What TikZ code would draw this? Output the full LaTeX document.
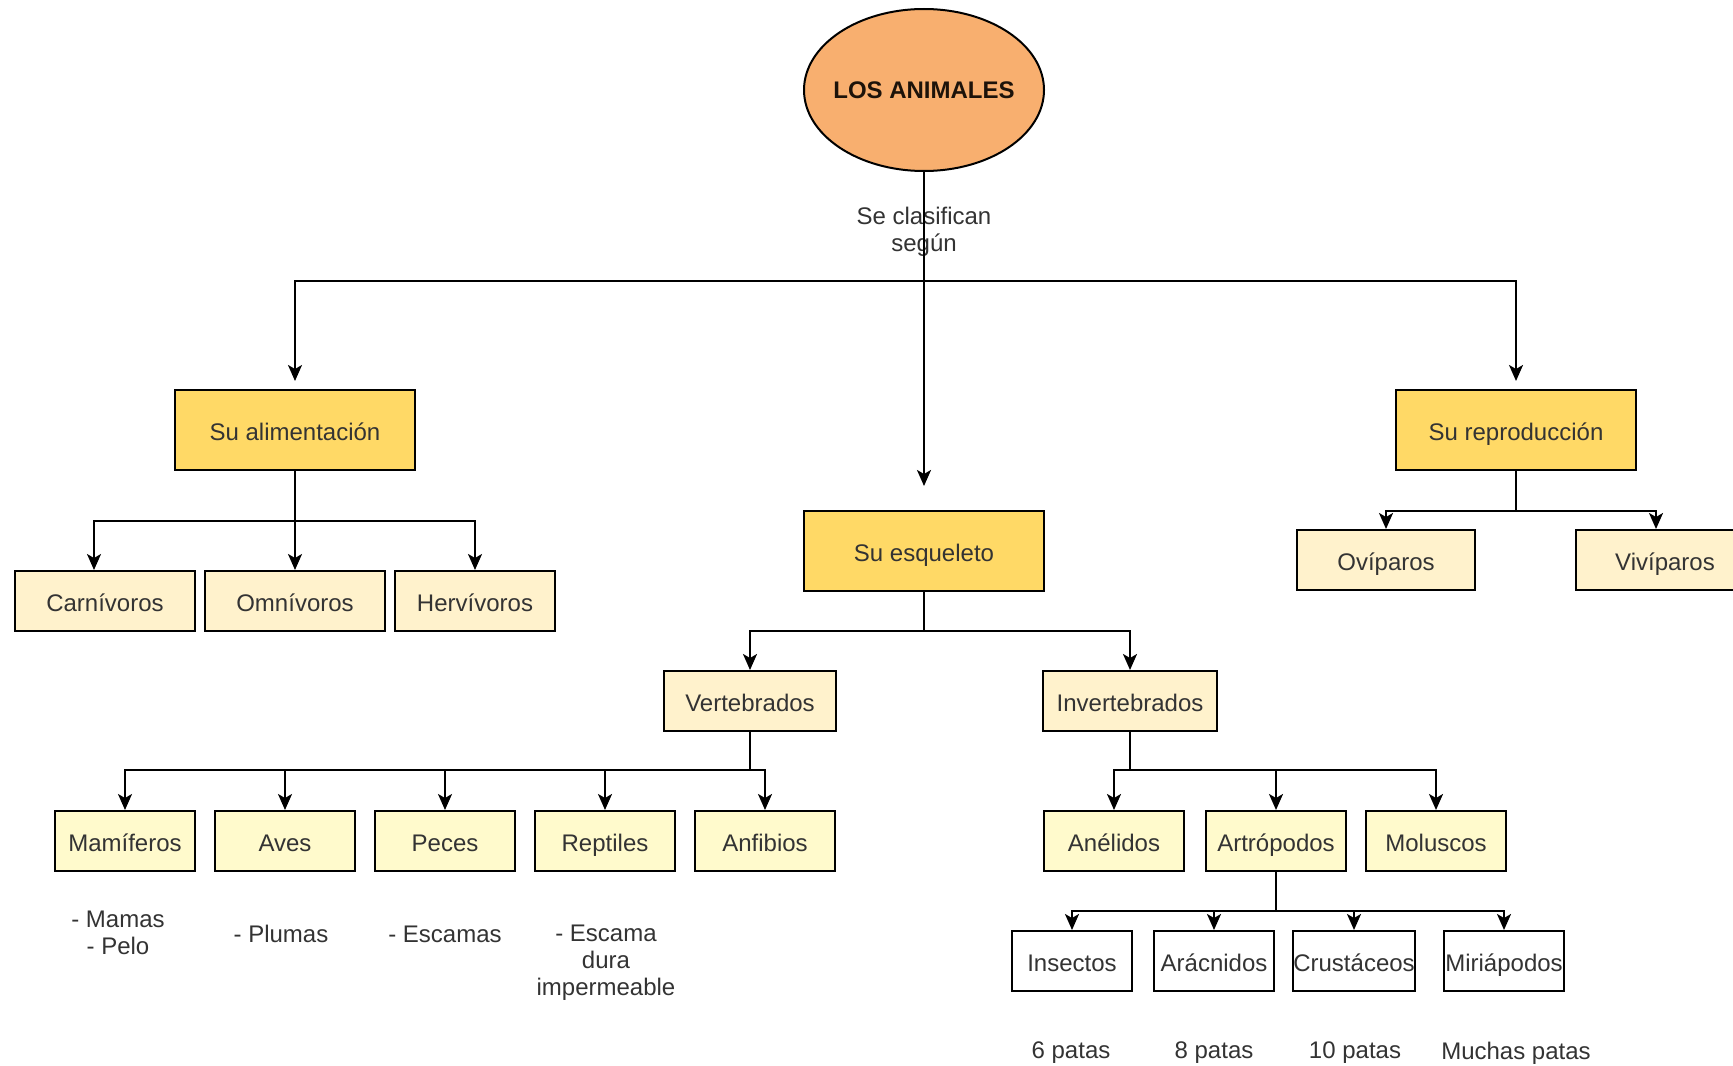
\documentclass[tikz,border=0pt]{standalone}
\usepackage{fontspec}
\setmainfont{Liberation Sans}
\usetikzlibrary{shapes.geometric,arrows.meta}
\definecolor{rootfill}{HTML}{F8AF6F}
\definecolor{topfill}{HTML}{FFD966}
\definecolor{subfill}{HTML}{FFF2CC}
\definecolor{leaffill}{HTML}{FFFACC}
\definecolor{txt}{HTML}{333333}

\begin{document}
\begin{tikzpicture}[x=0.5pt, y=-0.5pt, line width=1pt,
    every node/.style={font=\fontsize{12}{13.5}\selectfont, text=txt},
    arr/.style={-{Stealth[length=8pt,width=7pt,inset=2pt]}},
    boxtext/.style={text height=10.5pt, text depth=0.5pt},
    topbox/.style={draw, fill=topfill, boxtext, minimum width=120pt, minimum height=40pt},
    subbox/.style={draw, fill=subfill, boxtext, minimum height=30pt},
    leafbox/.style={draw, fill=leaffill, boxtext, minimum width=70pt, minimum height=30pt},
    legbox/.style={draw, fill=white, boxtext, minimum width=60pt, minimum height=30pt, inner xsep=0pt},
    note/.style={align=center}]
  % fix the page to the reference frame
  \useasboundingbox (0,0) rectangle (1733,1065);

  \node (animales) at (924,90) [ellipse, draw, fill=rootfill, minimum width=120pt, minimum height=81pt,
    font=\fontsize{12}{13.5}\selectfont\bfseries, text=black!85!brown] {\makebox[0pt]{LOS ANIMALES}};
  \node (segun) at (924,232) [note] {Se clasifican\\según};

  \node (alim) at (295,430) [topbox] {Su alimentación};
  \node (esq) at (924,551) [topbox] {Su esqueleto};
  \node (repr) at (1516,430) [topbox] {Su reproducción};

  \coordinate (b0) at (924,281);
  \draw (animales.south) -- (b0);
  \draw[arr, shorten >=12pt] (b0) -- (esq.north);
  \draw[arr, shorten >=4pt] (b0) -| (alim.north);
  \draw[arr, shorten >=4pt] (b0) -| (repr.north);

  % alimentacion
  \foreach \n/\x/\w/\t in {carn/105/90/Carnívoros, omni/295/90/Omnívoros, herv/475/80/Hervívoros}
    \node (\n) at (\x,601) [subbox, minimum width=\w pt] {\t};
  \coordinate (b1) at (295,521);
  \draw (alim.south) -- (b1);
  \draw[arr] (b1) -| ([xshift=-5.5pt]carn.north);
  \foreach \n in {omni,herv} \draw[arr] (b1) -| (\n.north);

  % reproduccion
  \node (ovi) at (1386,560) [subbox, minimum width=89pt] {Ovíparos};
  \node (vivi) at (1665,560) [subbox, minimum width=89pt] {Vivíparos};
  \coordinate (b2) at (1516,511);
  \draw (repr.south) -- (b2);
  \draw[arr] (b2) -| (ovi.north);
  \draw[arr] (b2) -| ([xshift=-4.5pt]vivi.north);

  % esqueleto
  \node (vert) at (750,701) [subbox, minimum width=86pt] {Vertebrados};
  \node (invert) at (1130,701) [subbox, minimum width=87pt] {Invertebrados};
  \coordinate (b3) at (924,631);
  \draw (esq.south) -- (b3);
  \foreach \n in {vert,invert} \draw[arr] (b3) -| (\n.north);

  % vertebrados
  \foreach \n/\x/\t in {mami/125/Mamíferos, aves/285/Aves, peces/445/Peces, rept/605/Reptiles, anfi/765/Anfibios}
    \node (\n) at (\x,841) [leafbox] {\t};
  \coordinate (b4) at (750,770);
  \draw (vert.south) -- (b4);
  \foreach \n in {mami,aves,peces,rept,anfi} \draw[arr] (b4) -| (\n.north);

  \node (nmami) at (118,933) [note] {- Mamas\\- Pelo};
  \node (naves) at (281,934) {- Plumas};
  \node (npeces) at (445,934) {- Escamas};
  \node (nrept) at (606,963) [note] {- Escama\\dura\\impermeable};

  % invertebrados
  \foreach \n/\x/\t in {aneli/1114/Anélidos, artro/1276/Artrópodos, molus/1436/Moluscos}
    \node (\n) at (\x,841) [leafbox] {\t};
  \coordinate (b5) at (1130,770);
  \draw (invert.south) -- (b5);
  \foreach \n in {aneli,artro,molus} \draw[arr] (b5) -| (\n.north);

  % artropodos
  \foreach \n/\x/\t/\px/\p in {insec/1072/Insectos/1071/6 patas, arac/1214/Arácnidos/1214/8 patas,
      crus/1354/Crustáceos/1355/10 patas, miri/1504/Miriápodos/1516/Muchas patas} {
    \node (\n) at (\x,961) [legbox] {\t};
    \node (p\n) at (\px,1053) {\p};
  }
  \coordinate (b6) at (1276,911);
  \draw (artro.south) -- (b6);
  \foreach \n in {insec,arac,crus,miri} \draw[arr] (b6) -| (\n.north);
\end{tikzpicture}
\end{document}
